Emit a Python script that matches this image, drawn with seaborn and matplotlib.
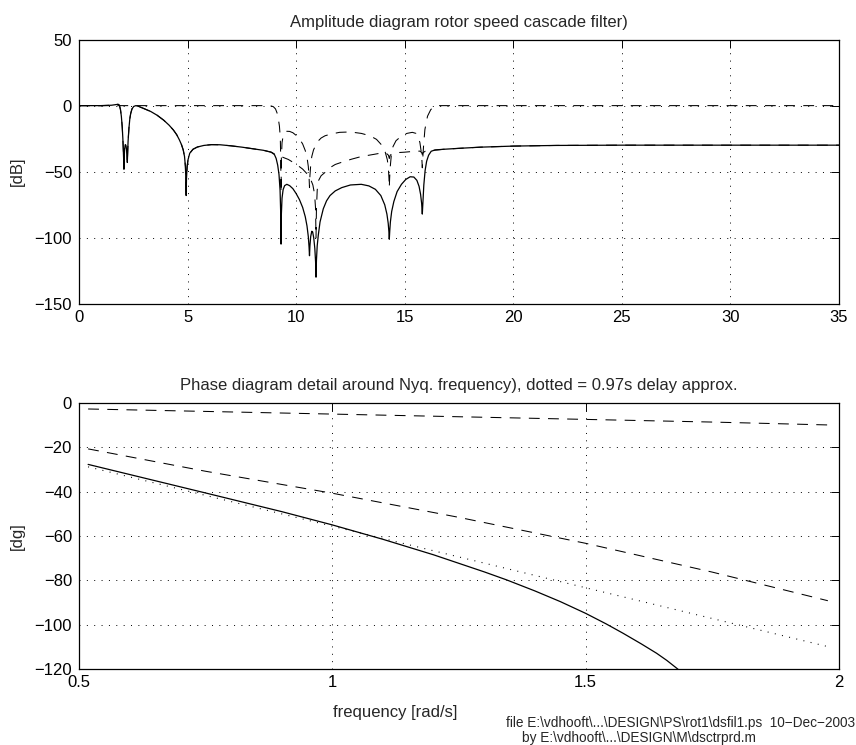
import matplotlib
matplotlib.use("Agg")
import matplotlib.pyplot as plt
import seaborn as sns
import pandas as pd

# ---- amplitude data [rad/s] / [dB] ----
amp_freq_total = [0, 1.0, 1.5, 1.7, 1.8, 1.86, 1.91, 1.95, 1.99, 2.02, 2.045, 2.06, 2.07, 2.08, 2.1,
                  2.13, 2.16, 2.19, 2.21, 2.225, 2.24, 2.26, 2.3, 2.34, 2.38, 2.44, 2.52, 2.62, 2.75,
                  3.0, 3.3, 3.6, 3.9, 4.15, 4.35, 4.5, 4.62, 4.72, 4.8, 4.86, 4.9, 4.92, 4.935, 4.95,
                  4.98, 5.02, 5.1, 5.25, 5.45, 5.75, 6.1, 6.5, 7.0, 7.5, 8.0, 8.5, 8.85, 9.0, 9.08,
                  9.15, 9.21, 9.26, 9.29, 9.305, 9.32, 9.35, 9.4, 9.47, 9.57, 9.7, 9.85, 10.0, 10.15,
                  10.3, 10.42, 10.5, 10.56, 10.595, 10.615, 10.635, 10.67, 10.72, 10.76, 10.81, 10.86,
                  10.895, 10.915, 10.935, 10.97, 11.02, 11.1, 11.25, 11.4, 11.56, 11.8, 12.1, 12.5,
                  13.0, 13.35, 13.65, 13.9, 14.08, 14.18, 14.24, 14.27, 14.29, 14.31, 14.34, 14.4,
                  14.5, 14.65, 14.85, 15.05, 15.25, 15.42, 15.56, 15.66, 15.73, 15.78, 15.81, 15.84,
                  15.88, 15.94, 16.01, 16.1, 16.22, 16.4, 16.8, 17.5, 18.5, 20, 22, 25, 30, 35]
amp_db_total = [0, 0, 0.3, 0.8, 1.0, 0.3, -3, -8, -16, -25, -35, -42, -48, -40, -33,
                -29.5, -30, -33, -37, -43, -36, -27, -17, -10, -6, -2.5, -0.6, 0, -0.6,
                -2.3, -4.4, -7.3, -11, -14.8, -18.5, -22, -25.8, -29.5, -33.5, -38.5, -46, -55, -68, -55,
                -46, -41, -36, -33, -31.3, -30.1, -29.5, -29.6, -30.4, -31.4, -32.6, -33.8, -35.2, -37, -40,
                -45, -52, -64, -82, -104.7, -82, -70, -63.5, -60.5, -59.5, -60.5, -62.8, -66.5, -71,
                -77, -84, -91, -99, -107, -113.5, -106, -99, -95, -95.5, -100, -108,
                -118, -129.7, -117, -106, -98, -88, -78, -72, -68, -64.5, -62, -60,
                -59.5, -60.7, -63.3, -68, -75, -82, -89, -95, -101, -95, -88, -80,
                -72.5, -65, -59.5, -55.8, -53.8, -54, -56.5, -61, -67, -74, -82, -72,
                -60, -49, -42, -37.5, -34.5, -33.5, -33, -32.3, -31.4, -30.6, -30.1, -29.9, -29.9, -29.9]

amp_freq_pre = [0, 1.0, 1.5, 1.7, 1.8, 1.86, 1.91, 1.95, 1.99, 2.02, 2.045, 2.06, 2.07, 2.08, 2.1,
                2.13, 2.16, 2.19, 2.21, 2.225, 2.24, 2.26, 2.3, 2.34, 2.38, 2.44, 2.52, 2.62, 2.75,
                3.0, 3.3, 3.6, 3.9, 4.15, 4.35, 4.5, 4.62, 4.72, 4.8, 4.86, 4.9, 4.92, 4.935, 4.95,
                4.98, 5.02, 5.1, 5.25, 5.45, 5.75, 6.1, 6.5, 7.0, 7.5, 8.0, 8.5, 8.85, 9.0, 9.3,
                9.64, 10.0, 10.3, 10.5, 10.65, 10.77, 10.85, 10.895, 10.915, 10.935, 10.97, 11.02,
                11.15, 11.33, 11.55, 11.8, 12.1, 12.55, 13.0, 13.6, 14.0, 14.15, 14.25, 14.29, 14.33,
                14.45, 14.7, 15.0, 15.4, 15.7, 15.78, 15.81, 15.84, 15.95, 16.2, 16.8, 17.5, 18.5,
                20, 22, 25, 30, 35]
amp_db_pre = [0, 0, 0.3, 0.8, 1.0, 0.3, -3, -8, -16, -25, -35, -42, -48, -40, -33,
              -29.5, -30, -33, -37, -43, -36, -27, -17, -10, -6, -2.5, -0.6, 0, -0.6,
              -2.3, -4.4, -7.3, -11, -14.8, -18.5, -22, -25.8, -29.5, -33.5, -38.5, -46, -55, -68, -55,
              -46, -41, -36, -33, -31.3, -30.1, -29.5, -29.6, -30.4, -31.4, -32.6, -33.8, -35.2, -36.5, -38.5,
              -40.7, -44.3, -48, -51.5, -55, -60, -67, -78, -100, -78, -64, -57,
              -53, -50.5, -47, -44.5, -42.8, -40.5, -38.5, -36.8, -35.6, -36, -37.5, -40, -37.5,
              -36, -35.5, -35.2, -34.6, -34.4, -35.5, -37, -35.5, -34.5, -34, -33, -32.3, -31.4,
              -30.6, -30.1, -29.9, -29.9, -29.9]

amp_freq_notch = [0, 8.8, 8.95, 9.05, 9.12, 9.18, 9.23, 9.27, 9.29, 9.305, 9.32, 9.35, 9.4, 9.47,
                  9.57, 9.7, 9.85, 10.0, 10.15, 10.3, 10.42, 10.5, 10.56, 10.595, 10.615, 10.635,
                  10.67, 10.72, 10.8, 10.9, 11.0, 11.15, 11.33, 11.6, 12.0, 12.5, 13.0, 13.4, 13.7,
                  13.95, 14.1, 14.2, 14.25, 14.275, 14.29, 14.305, 14.33, 14.38, 14.46, 14.6, 14.85,
                  15.1, 15.35, 15.52, 15.62, 15.7, 15.76, 15.795, 15.81, 15.83, 15.87, 15.93, 16.05,
                  16.2, 16.35, 16.6, 35]
amp_db_notch = [0, 0, -0.8, -2.5, -5.5, -10, -15.5, -24, -40, -66, -40, -28, -23, -20.5,
                -19.4, -19.5, -20.5, -22.5, -25, -29, -34, -39, -46, -54, -62, -53,
                -45, -38.5, -33.5, -30, -27, -24.5, -22.8, -21.5, -20.2, -19.9, -21.0, -22.8, -25.5,
                -30, -35, -41, -48, -55, -62, -55, -47, -38, -31, -26.5, -23,
                -21, -20.2, -21, -23.5, -28, -35, -42, -47, -40, -30, -18, -8,
                -3, -0.8, 0, 0]

# ---- phase data [rad/s] / [deg] ----
ph_freq_total = [0.518, 0.75, 0.9, 1.0, 1.1, 1.2, 1.3, 1.344, 1.4, 1.45, 1.5, 1.54, 1.574,
                 1.61, 1.64, 1.66, 1.68, 1.70]
ph_deg_total = [-27.7, -40.6, -49.0, -55.0, -61.5, -68.5, -76.2, -79.8, -84.8, -89.6, -94.9,
                -99.6, -103.9, -108.7, -112.9, -116.1, -119.7, -123.5]
ph_freq_dash = [0.518, 0.75, 1.0, 1.25, 1.5, 1.75, 1.978]
ph_deg_upper = [-2.7, -3.8, -5.0, -6.2, -7.4, -8.6, -9.9]
ph_deg_lower = [-20.7, -30.8, -40.7, -51.6, -63.3, -76.3, -89.2]
ph_freq_delay = [0.518, 1.978]
ph_deg_delay = [-28.8, -109.9]

amp_xticks = [0, 5, 10, 15, 20, 25, 30, 35]
amp_yticks = [-150, -100, -50, 0, 50]
ph_xticks = [0.5, 1, 1.5, 2]
ph_yticks = [-120, -100, -80, -60, -40, -20, 0]

sns.set_style("white")
plt.rcParams["font.family"] = ["Liberation Sans", "DejaVu Sans"]
plt.rcParams["lines.scale_dashes"] = False
plt.rcParams["axes.unicode_minus"] = True

W, H = 856, 745
fig = plt.figure(figsize=(W / 100, H / 100), dpi=100)
fig.patch.set_facecolor("white")


def px_axes(left, top, right, bottom):
    return [left / W, 1 - bottom / H, (right - left) / W, (bottom - top) / H]


ax1 = fig.add_axes(px_axes(79, 39.5, 839, 304))
ax2 = fig.add_axes(px_axes(79, 403, 839, 669))

DASH = (0, (7.8, 6.0))
DOT = (0, (0.7, 4.6))


def line(ax, x, y, style, lw):
    df = pd.DataFrame({"f": x, "v": y})
    sns.lineplot(data=df, x="f", y="v", ax=ax, color="black", linewidth=lw,
                 linestyle=style, estimator=None, sort=False, errorbar=None)


line(ax1, amp_freq_notch, amp_db_notch, DASH, 0.75)
line(ax1, amp_freq_pre, amp_db_pre, DASH, 0.75)
line(ax1, amp_freq_total, amp_db_total, "-", 0.9)

line(ax2, ph_freq_dash, ph_deg_upper, DASH, 0.75)
line(ax2, ph_freq_dash, ph_deg_lower, DASH, 0.75)
line(ax2, ph_freq_delay, ph_deg_delay, DOT, 0.8)
line(ax2, ph_freq_total, ph_deg_total, "-", 0.9)

for ax, xt, yt, xl, yl in [(ax1, amp_xticks, amp_yticks, (0, 35), (-150, 50)),
                           (ax2, ph_xticks, ph_yticks, (0.5, 2), (-120, 0))]:
    ax.set_xlim(*xl)
    ax.set_ylim(*yl)
    ax.set_xticks(xt)
    ax.set_yticks(yt)
    ax.set_xticklabels([f"{t:g}" for t in xt])
    ax.set_yticklabels([f"{t:g}".replace("-", "\u2212") for t in yt])
    ax.grid(True, color="black", linestyle=DOT, linewidth=0.7)
    ax.set_axisbelow(True)
    for s in ax.spines.values():
        s.set_color("black")
        s.set_linewidth(0.9)
        s.set_visible(True)
    ax.tick_params(direction="in", top=True, right=True, length=5.5, width=0.7,
                   colors="black", labelsize=12)
    ax.tick_params(axis="x", pad=4.5)
    ax.tick_params(axis="y", pad=5.0)
    ax.set_xlabel("")
    ax.yaxis.set_label_coords(-0.071, 0.5)

ax1.set_ylabel("[dB]", fontsize=12)
ax2.set_ylabel("[dg]", fontsize=12)
ax1.set_title("Amplitude diagram rotor speed cascade filter)", fontsize=12, pad=9.2)
ax2.set_title("Phase diagram detail around Nyq. frequency), dotted = 0.97s delay approx.",
              fontsize=12, pad=9.2)

fig.text(395.5 / W, 1 - 712 / H, "frequency [rad/s]", fontsize=12, ha="center", va="center")
fig.text(506 / W, 1 - 722.7 / H,
         "file E:\\vdhooft\\...\\DESIGN\\PS\\rot1\\dsfil1.ps  10\u2212Dec\u22122003",
         fontsize=9.8, ha="left", va="center")
fig.text(522 / W, 1 - 738.3 / H, "by E:\\vdhooft\\...\\DESIGN\\M\\dsctrprd.m",
         fontsize=9.8, ha="left", va="center")

fig.savefig("out.png", dpi=100, facecolor="white")
